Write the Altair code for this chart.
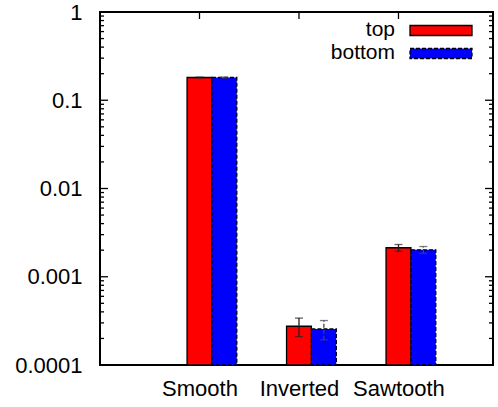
import json
import altair as alt
import pandas as pd

# Benchmark results (log scale), one value and one symmetric error per case
categories = ["Smooth", "Inverted", "Sawtooth"]
series = ["top", "bottom"]
colors = ["#ff0000", "#0000ff"]
top_values = [0.181, 2.75e-4, 2.13e-3]
top_errors = [0.002, 0.65e-4, 0.19e-3]
bottom_values = [0.181, 2.56e-4, 2.02e-3]
bottom_errors = [0.002, 0.63e-4, 0.18e-3]
y_ticks = [1e-4, 1e-3, 1e-2, 1e-1, 1.0]

FONT = "Liberation Sans"
W, H = 393, 353
BAR_W = 0.25

rows = []
for s_i, (name, vals, errs) in enumerate(
    zip(series, [top_values, bottom_values], [top_errors, bottom_errors])
):
    for c_i, cat in enumerate(categories):
        center = c_i + s_i * BAR_W
        rows.append(
            dict(
                series=name,
                category=cat,
                xc=center,
                x0=center - BAR_W / 2,
                x1=center + BAR_W / 2,
                value=vals[c_i],
                lo=vals[c_i] - errs[c_i],
                hi=vals[c_i] + errs[c_i],
            )
        )
df = pd.DataFrame(rows)

# minor tick positions: 2..9 within each decade
minor = [m * 10.0 ** k for k in range(-4, 0) for m in range(2, 10)]
major_df = pd.DataFrame({"v": y_ticks})
minor_df = pd.DataFrame({"v": minor})
xtick_df = pd.DataFrame({"c": list(range(len(categories)))})

xscale = alt.Scale(domain=[-1, 2.95], nice=False, zero=False)
yscale = alt.Scale(type="log", domain=[1e-4, 1], nice=False)

label_expr = f"{json.dumps(categories)}[round(datum.value)]"

x_axis = alt.Axis(
    values=[0, 1, 2],
    labelExpr=label_expr,
    ticks=False,
    tickSize=0,
    domain=False,
    grid=False,
    labelFont=FONT,
    labelFontSize=22,
    labelColor="black",
    labelPadding=13,
    title=None,
)
y_axis = alt.Axis(
    values=y_ticks,
    format="~g",
    ticks=False,
    tickSize=0,
    domain=False,
    grid=False,
    labelFont=FONT,
    labelFontSize=22,
    labelColor="black",
    labelPadding=18,
    title=None,
)

bars_layers = []
for s_i, name in enumerate(series):
    sub = df[df.series == name]
    dash = [] if s_i == 0 else [4, 2]
    bars = alt.Chart(sub).mark_bar(
        color=colors[s_i], stroke="black", strokeWidth=1.3, strokeDash=dash
    ).encode(
        x=alt.X("x0:Q", scale=xscale, axis=x_axis, title=None),
        x2="x1:Q",
        y=alt.Y("value:Q", scale=yscale, axis=y_axis, title=None),
        y2=alt.datum(1e-4),
    )
    err_color = "#222222" if s_i == 0 else "#444444"
    rule = alt.Chart(sub).mark_rule(
        color=err_color, strokeWidth=1.3, strokeDash=dash
    ).encode(
        x=alt.X("xc:Q", scale=xscale, title=None),
        y=alt.Y("lo:Q", scale=yscale, title=None),
        y2="hi:Q",
    )
    caps = []
    for col in ["lo", "hi"]:
        caps.append(
            alt.Chart(sub).mark_tick(
                orient="horizontal", color=err_color, thickness=1.3, size=8
            ).encode(
                x=alt.X("xc:Q", scale=xscale, title=None),
                y=alt.Y(f"{col}:Q", scale=yscale, title=None),
            )
        )
    bars_layers += [bars, rule] + caps

# inward-pointing tick marks on all four sides
def yticks(data, x_from, x_to):
    return alt.Chart(data).mark_rule(color="black", strokeWidth=1.3).encode(
        y=alt.Y("v:Q", scale=yscale, title=None),
        x=alt.value(x_from),
        x2=alt.value(x_to),
    )

tick_layers = [
    yticks(major_df, 0, 8),
    yticks(minor_df, 0, 4),
    yticks(major_df, W, W - 8),
    yticks(minor_df, W, W - 4),
    alt.Chart(xtick_df).mark_rule(color="black", strokeWidth=1.3).encode(
        x=alt.X("c:Q", scale=xscale, title=None),
        y=alt.value(0),
        y2=alt.value(7),
    ),
]

# key in the upper right corner
key_layers = []
for s_i, name in enumerate(series):
    top = 13.5 + s_i * 23
    key_layers.append(
        alt.Chart(pd.DataFrame({"s": [name]})).mark_rect(
            color=colors[s_i],
            stroke="black",
            strokeWidth=1.3,
            strokeDash=[] if s_i == 0 else [4, 2],
        ).encode(
            x=alt.value(310), x2=alt.value(372), y=alt.value(top), y2=alt.value(top + 10)
        )
    )
    key_layers.append(
        alt.Chart(pd.DataFrame({"s": [name]})).mark_text(
            align="right", baseline="middle", font=FONT, fontSize=21, color="black"
        ).encode(text="s:N", x=alt.value(295), y=alt.value(top + 4))
    )

chart = alt.layer(*bars_layers, *tick_layers, *key_layers).properties(
    width=W,
    height=H,
    autosize=alt.AutoSizeParams(type="none"),
    padding={"left": 100, "top": 12, "right": 5, "bottom": 42},
).configure_view(stroke="black", strokeWidth=2)

chart.save("out.html", embed_options={"renderer": "svg", "actions": False})
